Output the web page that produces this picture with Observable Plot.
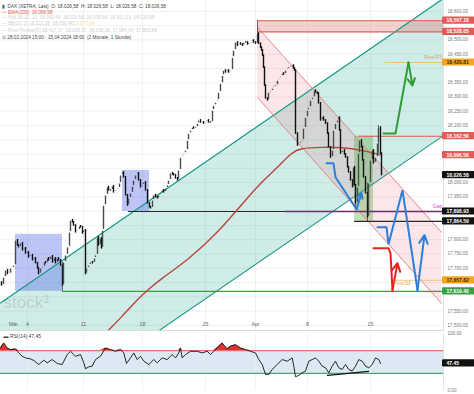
<!DOCTYPE html>
<html><head><meta charset="utf-8">
<script src="https://cdn.jsdelivr.net/npm/d3@7"></script>
<script src="https://cdn.jsdelivr.net/npm/@observablehq/plot@0.6"></script>
<style>
html,body{margin:0;padding:0;background:#fff;}
#chart svg{display:block;}
</style></head><body><div id="chart"></div>
<script>
// ---------- data ----------
const timeDomain = [0, 443];          // chart time units (hourly session axis)
const priceDomain = [17482, 18638];
const priceTicks = [17500,17550,17600,17650,17700,17750,17800,17850,17900,17950,18000,18050,18100,18150,18200,18250,18300,18350,18400,18450,18500,18550,18600];
const dateTicks = [27, 83, 142, 205, 255, 307, 370];
const dateLabels = ["4", "11", "18", "25", "Apr", "8", "15"];
const monthLabel = {t: 13, label: "Mär"};

// [time, close]
const closeSeries = [[1,17640],[3,17668],[5,17693],[7,17680],[10,17700],[13,17710],[15,17798],[17,17780],[18,17774],[20,17788],[22,17763],[24,17770],[25,17752],[27,17756],[28,17738],[30,17746],[32,17728],[34,17735],[35,17718],[37,17700],[38,17680],[40,17700],[42,17704],[44,17721],[45,17718],[47,17735],[48,17728],[50,17742],[52,17721],[54,17735],[55,17718],[57,17735],[58,17728],[60,17710],[62,17640],[63,17721],[65,17746],[67,17774],[69,17826],[70,17868],[72,17861],[73,17850],[75,17826],[77,17833],[79,17847],[80,17844],[82,17822],[83,17833],[85,17680],[86,17700],[88,17710],[90,17721],[92,17718],[94,17735],[95,17746],[97,17808],[98,17780],[100,17805],[101,17770],[102,17833],[103,17920],[105,17956],[107,17984],[108,17973],[110,17973],[112,17987],[113,17966],[115,17973],[117,17980],[119,17998],[120,18026],[122,18036],[123,18019],[125,17956],[127,17920],[128,17945],[130,17963],[132,17987],[133,18008],[135,18026],[137,18033],[138,18008],[140,17984],[142,17991],[143,18001],[145,17973],[147,17928],[149,17914],[150,17910],[152,17938],[153,17956],[155,17949],[157,17945],[158,17956],[160,17963],[162,17973],[163,17966],[165,17980],[167,17991],[168,18008],[170,18033],[172,18029],[173,18026],[175,18015],[177,18008],[178,18043],[180,18088],[182,18095],[183,18102],[185,18113],[187,18148],[188,18172],[190,18183],[192,18193],[193,18190],[195,18193],[197,18207],[198,18218],[200,18211],[203,18207],[205,18214],[207,18218],[208,18211],[210,18211],[212,18253],[213,18270],[215,18281],[217,18288],[218,18316],[220,18347],[222,18375],[223,18393],[225,18386],[227,18393],[228,18386],[230,18393],[232,18438],[233,18463],[235,18491],[237,18480],[238,18487],[240,18484],[242,18480],[243,18491],[245,18491],[247,18484],[248,18487],[250,18494],[252,18498],[253,18491],[255,18487],[257,18522],[258,18487],[260,18473],[261,18463],[262,18445],[263,18403],[264,18340],[265,18295],[267,18288],[268,18316],[270,18320],[272,18330],[273,18337],[275,18340],[277,18358],[278,18365],[280,18372],[282,18382],[283,18379],[285,18393],[287,18400],[288,18403],[290,18407],[292,18410],[293,18400],[294,18393],[295,18172],[297,18130],[298,18138],[300,18141],[302,18148],[303,18190],[305,18228],[307,18253],[308,18263],[310,18288],[312,18298],[314,18323],[315,18316],[317,18312],[318,18278],[320,18218],[322,18228],[323,18218],[325,18207],[327,18172],[328,18124],[330,18088],[332,18113],[333,18183],[335,18207],[337,18218],[338,18228],[339,18183],[340,18102],[342,18113],[344,18099],[345,18088],[347,18054],[348,18036],[350,18008],[352,17984],[353,18054],[354,17991],[355,17928],[357,17984],[358,18102],[359,18148],[361,18124],[362,18078],[363,18019],[365,17963],[367,17879],[368,17998],[370,18078],[372,18113],[373,18068],[375,18088],[377,18138],[378,18193],[380,18102],[381,18026.58]];
const firstOpen = 17650;
// [time, low, high] visible long wicks
const wicks = [[62,17619,17721],[257,18487,18567],[355,17910,17984],[367,17864,17998],[378,18102,18200]];

const emaT = [100,108,120,138,147,160,187,217,250,265,276,292,300,320,342,362,381];
const emaV = [17455,17483,17525,17595,17623,17662,17728,17822,17960,18015,18050,18108,18120,18124,18124,18113,18096.58];

// channels: [time, lower, upper]
const upChannel = [[0,17101,17578],[443,18165,18645]];
const downChannel = [[257,18298,18544],[441,17577,17826]];

// boxes: [t1, t2, p1, p2]
const resistanceZone = [[257,443,18528.05,18567.18]];
const blueBoxes = [[15,62,17619.4,17819],[122,149,17898.93,18043]];
const greenBox = [[354,373,17864.59,18162.56]];

// horizontal levels: [price, t1, t2]
const blackLevels = [[17898.93,128,285],[17864.59,354,443]];
const gapLevel = [[17898.93,285,443]];
const greenLevel = [[17619.40,62,443]];
const redLevels = [[18567.18,257,443],[18528.05,257,443],[18162.56,358,443]];
const pivotLevels = [[18420.81,385,443],[17657.82,392,443]];

// scenario paths
const greenPath = [[383,18172],[395,18172],[408,18421],[412,18340]];
const bluePath1 = [[326,18068],[333,18068],[335,18019],[356,17907],[361,17963]];
const bluePath2 = [[377,17844],[386,17844],[388,17784],[402,17973],[417,17623],[424,17816]];
const redPath = [[373,17770],[388,17770],[390,17752],[392,17623],[397,17718]];

// right-side value labels
const redLabels = [18567.18, 18528.05, 18162.56, 18096.58];
const orangeLabels = [18420.81, 17657.82];
const blackLabels = [18026.58, 17898.93, 17864.59];
const greenLabels = [17619.40];

// RSI(14)
const rsiSeries = [[0,74.6],[3.3,83.3],[6.7,74.6],[10,71.7],[15,72.9],[18.3,65.9],[21.7,60.1],[25,57.2],[30,55.5],[33.3,52.6],[38.3,45.6],[43.3,53.2],[46.7,48.5],[51.7,54.3],[56.7,47.4],[61.7,45.6],[66.7,63],[70,68.8],[75,60.1],[80,63],[83.3,48.5],[85,38.1],[88.3,41.6],[91.7,42.7],[95,54.3],[100,60.1],[105,74.6],[110,71.7],[115,68.8],[120,71.7],[123.3,65.9],[126,47.4],[130,57.2],[133.3,65.9],[136.7,54.3],[140,60.1],[143.3,51.4],[148.3,45.6],[153.3,54.3],[156.7,48.5],[161.7,57.2],[166.7,54.3],[171.7,63],[175,57.2],[178.3,65.9],[180,74.6],[181.7,57.2],[185,63],[190,68.8],[196.7,68.8],[201.7,65.9],[206.7,68.8],[210,63],[213.3,68.8],[218.3,77.5],[221.7,83.3],[226.7,72.9],[230,77.5],[235,80.4],[240,74.6],[245,71.7],[250,68.8],[255,65.9],[258.3,54.3],[261.7,45.6],[265,28.2],[268.3,28.2],[271.7,36.9],[276.7,45.6],[281.7,54.3],[286.7,51.4],[291.7,57.2],[293.3,42.7],[295,24.2],[298.3,26.5],[301.7,31.1],[305,34],[308.3,51.4],[311.7,54.3],[315,57.2],[318.3,51.4],[321.7,42.7],[325,39.8],[328.3,31.1],[331.7,42.7],[335,51.4],[338.3,39.8],[341.7,36.9],[345,45.6],[348.3,36.9],[351.7,34],[355,42.7],[358.3,54.3],[361.7,51.4],[365,42.7],[368.3,39.8],[371.7,45.6],[375,57.2],[378.3,54.3],[380,47.45]];
const rsiDivergence = [[327,26.5],[368,33.5]];
const rsiLevels = {upper: 70, lower: 30};
const rsiTicks = [0, 100];
const rsiLast = 47.45;

// header texts
const header = [
  "DAX (XETRA, Last)  O: 18.026,58  H: 18.026,58  L: 18.026,58  C: 18.026,58",
  "— EMA(200): 18.096,58",
  "— Hüll 26,12, 10: 18.093,43  18.026,58  18.008,54  18.051,23  18.026,58",
  "— BB(20, 2) 18.223,28  18.050,46",
  "— Pivot Punkte(D) 18.417,17  18.090,37  18.158,36  17.984,54  17.863,89",
  "⊙ 28.02.2024 15:00 - 15.04.2024 18:00  (2 Monate, 1 Stunde)"
];
const headerExtra = "17.877,64";

// ---------- build ----------
const font = "Liberation Sans, Arial, sans-serif";
const fmt = d3.format(",.2f");
const candles = closeSeries.map(([t, c], i) => ({t, open: i ? closeSeries[i-1][1] : firstOpen, close: c}));
const seg = (arr) => arr.map(([p, t1, t2]) => ({p, t1, t2}));
const box = (arr) => arr.map(([t1, t2, p1, p2]) => ({t1, t2, p1, p2}));
const pts = (arr) => arr.map(([t, p]) => ({t, p}));
const T1 = timeDomain[1];
const allLabels = [...redLabels, ...orangeLabels, ...blackLabels, ...greenLabels];
// tick labels hidden behind a value box are not shown (as in the original)
const visibleTicks = priceTicks.filter(v => allLabels.every(l => Math.abs(l - v) > 24));

function pathMarks(path, color) {
  const p = pts(path);
  const last = p.slice(-2);
  return [
    Plot.line(p.slice(0, -1), {x: "t", y: "p", stroke: color, strokeWidth: 2, strokeLinejoin: "miter"}),
    Plot.arrow([{x1: last[0].t, y1: last[0].p, x2: last[1].t, y2: last[1].p}],
      {x1: "x1", y1: "y1", x2: "x2", y2: "y2", stroke: color, strokeWidth: 2, headLength: 7, headAngle: 55})
  ];
}

function valueLabels(values, fill, textFill) {
  return [
    Plot.rect(values, {x1: T1, x2: T1, y1: d => d, y2: d => d, insetLeft: -1, insetRight: -32, insetTop: -3.6, insetBottom: -3.6, fill, rx: 1.2}),
    Plot.text(values, {x: T1, y: d => d, dx: 3, textAnchor: "start", text: d => fmt(d), fill: textFill, fontSize: 5, fontWeight: "bold"})
  ];
}

const headerMarks = [];
const headerColors = ["#444", "#e0584f", "#cfcfcf", "#cfcfcf", "#cfcfcf", "#444"];
const headerY = [6, 11.5, 17, 23, 29.5, 37];
header.forEach((line, i) => {
  headerMarks.push(Plot.text([line], {frameAnchor: "top-left", dx: i === 0 ? 7 : 1.5, dy: headerY[i], lineAnchor: "middle", text: d => d, fontSize: 4.7, fill: headerColors[i]}));
});
headerMarks.push(Plot.text(["▮"], {frameAnchor: "top-left", dx: 1.5, dy: headerY[0], lineAnchor: "middle", text: d => d, fontSize: 4.5, fill: "#556"}));
headerMarks.push(Plot.text([headerExtra], {frameAnchor: "top-left", dx: 73, dy: headerY[3], lineAnchor: "middle", text: d => d, fontSize: 4.7, fill: "#f3e3a0"}));

const main = Plot.plot({
  width: 474, height: 330,
  marginTop: 0, marginBottom: 0, marginLeft: 0, marginRight: 31,
  style: {fontFamily: font, background: "#fff", overflow: "visible"},
  x: {domain: timeDomain, axis: null},
  y: {domain: priceDomain, axis: null},
  marks: [
    Plot.ruleY(priceTicks, {stroke: "#ebebeb", strokeWidth: 0.7}),
    Plot.ruleX(dateTicks, {stroke: "#ebebeb", strokeWidth: 0.7}),
    // channels
    Plot.areaY(upChannel.map(([t, lo, hi]) => ({t, lo, hi})), {x: "t", y1: "lo", y2: "hi", fill: "rgb(40,170,150)", fillOpacity: 0.22, clip: true}),
    Plot.areaY(downChannel.map(([t, lo, hi]) => ({t, lo, hi})), {x: "t", y1: "lo", y2: "hi", fill: "rgb(230,100,120)", fillOpacity: 0.16, clip: true}),
    Plot.rect(box(resistanceZone), {x1: "t1", x2: "t2", y1: "p1", y2: "p2", fill: "rgb(225,90,90)", fillOpacity: 0.28}),
    Plot.rect(box(blueBoxes), {x1: "t1", x2: "t2", y1: "p1", y2: "p2", fill: "rgb(70,95,230)", fillOpacity: 0.36}),
    Plot.rect(box(greenBox), {x1: "t1", x2: "t2", y1: "p1", y2: "p2", fill: "rgb(80,170,60)", fillOpacity: 0.35}),
    // watermark
    Plot.text(["stock³"], {x: 3, y: 17580, text: d => d, textAnchor: "start", fontSize: 17, fill: "#999", fillOpacity: 0.35}),
    // channel lines
    Plot.line(upChannel.map(([t, lo, hi]) => ({t, p: hi})), {x: "t", y: "p", stroke: "#1b9a86", strokeWidth: 1.2, clip: true}),
    Plot.line(upChannel.map(([t, lo, hi]) => ({t, p: lo})), {x: "t", y: "p", stroke: "#1b9a86", strokeWidth: 1.2, clip: true}),
    Plot.line(downChannel.map(([t, lo, hi]) => ({t, p: hi})), {x: "t", y: "p", stroke: "#e07a7a", strokeWidth: 0.9, clip: true}),
    Plot.line(downChannel.map(([t, lo, hi]) => ({t, p: lo})), {x: "t", y: "p", stroke: "#e07a7a", strokeWidth: 0.9, clip: true}),
    // levels
    Plot.ruleY(seg(blackLevels), {y: "p", x1: "t1", x2: "t2", stroke: "#2a2a2a", strokeWidth: 1.2}),
    Plot.ruleY(seg(gapLevel), {y: "p", x1: "t1", x2: "t2", stroke: "#6e2f6e", strokeWidth: 1.3}),
    Plot.ruleY(seg(greenLevel), {y: "p", x1: "t1", x2: "t2", stroke: "#3a9e45", strokeWidth: 1.3}),
    Plot.ruleY(seg(redLevels), {y: "p", x1: "t1", x2: "t2", stroke: "#e05a55", strokeWidth: 1.1}),
    Plot.ruleY(seg(pivotLevels), {y: "p", x1: "t1", x2: "t2", stroke: "#f2b65a", strokeWidth: 0.8}),
    // EMA
    Plot.line(emaT.map((t, i) => ({t, p: emaV[i]})), {x: "t", y: "p", stroke: "#b5483a", strokeWidth: 1.4, curve: "basis", clip: true}),
    // candles
    Plot.ruleX(wicks.map(([t, lo, hi]) => ({t, lo, hi})), {x: "t", y1: "lo", y2: "hi", stroke: "#333", strokeWidth: 0.7}),
    Plot.ruleX(candles, {x: "t", y1: "open", y2: "close", stroke: d => d.close >= d.open ? "#4a4a4a" : "#111", strokeWidth: 1.4, insetTop: -0.8, insetBottom: -0.8}),
    // scenario paths
    ...pathMarks(bluePath1, "#2e7fd9"),
    ...pathMarks(bluePath2, "#2e7fd9"),
    ...pathMarks(redPath, "#e8201c"),
    ...pathMarks(greenPath, "#2f9e34"),
    // annotations
    Plot.text(["Pivot R3"], {x: 441, y: 18437, text: d => d, textAnchor: "end", fontSize: 4.6, fill: "#e6a24a"}),
    Plot.text(["Pivot S3"], {x: 393, y: 17646, text: d => d, textAnchor: "start", fontSize: 4.6, fill: "#e6a24a"}),
    Plot.text(["Gap"], {x: 437, y: 17918, text: d => d, textAnchor: "middle", fontSize: 5, fill: "#d048c8"}),
    // frame edges
    Plot.ruleX([T1], {stroke: "#dcdcdc", strokeWidth: 0.8}),
    Plot.frame({anchor: "bottom", stroke: "#d8d8d8"}),
    // right axis
    Plot.text(visibleTicks, {x: T1, y: d => d, dx: 4, textAnchor: "start", text: d => fmt(d), fontSize: 4.6, fill: "#777"}),
    ...valueLabels(redLabels, "#e45a57", "#fff"),
    ...valueLabels(orangeLabels, "#f5a524", "#3b2a05"),
    ...valueLabels(blackLabels, "#111", "#fff"),
    ...valueLabels(greenLabels, "#3a9e45", "#fff"),
    // date labels
    Plot.text(dateTicks.map((t, i) => ({t, label: dateLabels[i]})), {x: "t", y: priceDomain[0], dy: -6, text: "label", fontSize: 5.2, fill: "#666"}),
    Plot.text([monthLabel], {x: "t", y: priceDomain[0], dy: -6, text: "label", fontSize: 5.2, fill: "#666"}),
    ...headerMarks
  ]
});

const rsiRows = rsiSeries.map(([t, v]) => ({t, v}));
const rsi = Plot.plot({
  width: 474, height: 64,
  marginTop: 3, marginBottom: 4, marginLeft: 0, marginRight: 31,
  style: {fontFamily: font, background: "#fff", overflow: "visible"},
  x: {domain: timeDomain, axis: null},
  y: {domain: [0, 100], axis: null},
  marks: [
    Plot.rect([{}], {x1: timeDomain[0], x2: timeDomain[1], y1: rsiLevels.lower, y2: rsiLevels.upper, fill: "#dde8f5"}),
    Plot.ruleX(dateTicks, {stroke: "#ebebeb", strokeWidth: 0.7}),
    Plot.ruleY([rsiLevels.upper], {stroke: "#e8706a", strokeWidth: 1.1}),
    Plot.ruleY([rsiLevels.lower], {stroke: "#4aa86a", strokeWidth: 1.1}),
    Plot.areaY(rsiRows, {x: "t", y1: rsiLevels.upper, y2: d => Math.max(rsiLevels.upper, d.v), fill: "#e3342f"}),
    Plot.line(rsiRows, {x: "t", y: "v", stroke: "#111", strokeWidth: 0.9}),
    Plot.line(pts(rsiDivergence), {x: "t", y: "p", stroke: "#111", strokeWidth: 1.4}),
    Plot.ruleX([T1], {stroke: "#dcdcdc", strokeWidth: 0.8}),
    Plot.text(rsiTicks, {x: T1, y: d => d, dx: 4, textAnchor: "start", text: d => fmt(d), fontSize: 4.6, fill: "#777"}),
    ...valueLabels([rsiLast], "#111", "#fff"),
    Plot.text(["▬ RSI(14) 47,45"], {frameAnchor: "top-left", dx: 3, dy: 3, lineAnchor: "middle", text: d => d, fontSize: 5, fill: "#444"})
  ]
});

document.getElementById("chart").append(main, rsi);
</script></body></html>
